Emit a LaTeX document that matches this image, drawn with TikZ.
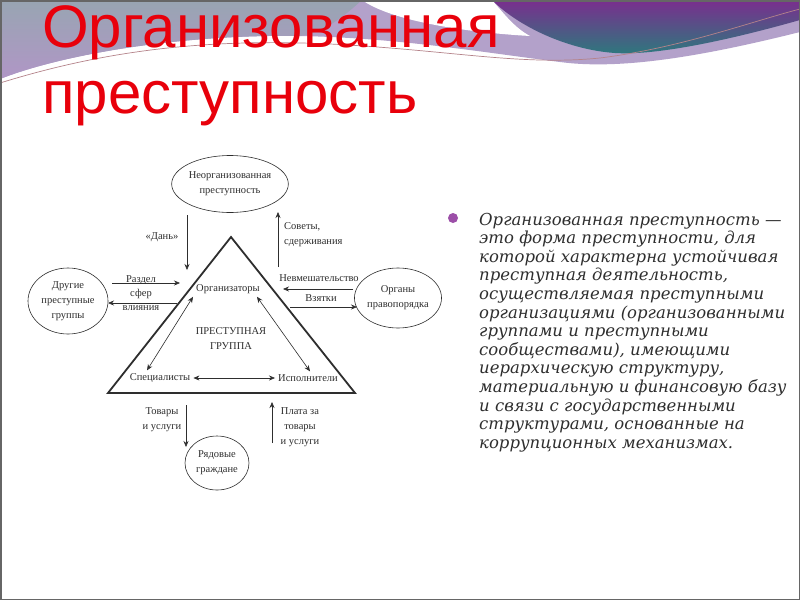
\documentclass[tikz,border=0pt]{standalone}
\usepackage{fontspec}
\setmainfont{Liberation Serif}
\newfontfamily\titlefont{Liberation Sans}
\newfontfamily\parafont{DejaVu Serif}
\usetikzlibrary{shapes.geometric,arrows.meta}

\definecolor{titlered}{HTML}{E8000B}
\definecolor{lavband}{HTML}{B3A1CA}
\definecolor{greyblue}{HTML}{98A5B2}
\definecolor{greypurple}{HTML}{B096C6}
\definecolor{deeppurple}{HTML}{7A2E8E}
\definecolor{deepteal}{HTML}{2B7B7D}
\definecolor{swooshline}{HTML}{B5838A}
\definecolor{bulletc}{HTML}{9C4FA8}
\definecolor{ink}{HTML}{2E2E2E}

\begin{document}
\begin{tikzpicture}[x=1pt,y=-1pt,
    every node/.style={font=\fontsize{10.5}{15}\selectfont,text=ink},
    oval/.style={draw=ink,ellipse,inner sep=0pt,align=center,line width=0.6pt},
    lbl/.style={align=center,inner sep=3pt},
    arr/.style={draw=ink,line width=0.6pt,-{Stealth[length=6pt,width=5pt]}},
    darr/.style={draw=ink,line width=0.6pt,{Stealth[length=6pt,width=5pt]}-{Stealth[length=6pt,width=5pt]}},
    para/.style={anchor=base west,inner sep=0pt,text=ink,font=\parafont\itshape\fontsize{16.5}{18}\selectfont}]
  \useasboundingbox (0,0) rectangle (800,600);
  \fill[white] (0,0) rectangle (800,600);

  % slide header swoosh
  \fill[lavband] (0,0) -- (800,0) -- (800,32) .. controls (700,57) and (620,70) .. (560,62)
    .. controls (480,52) and (400,38) .. (300,36) .. controls (180,34) and (60,55) .. (0,79) -- cycle;
  \shade[top color=greyblue,bottom color=greypurple] (0,0) -- (362,0)
    .. controls (340,20) and (320,34) .. (300,36) .. controls (180,34) and (60,55) .. (0,79) -- cycle;
  \fill[white] (362,0) -- (492,0) .. controls (505,15) and (515,28) .. (530,36)
    .. controls (460,32) and (390,20) .. (362,0) -- cycle;
  \shade[top color=deeppurple,bottom color=deepteal] (492,0) -- (800,0) -- (800,20)
    .. controls (740,37) and (660,56) .. (615,53) .. controls (570,50) and (520,28) .. (492,0) -- cycle;
  \draw[swooshline,line width=0.7pt] (0,83) .. controls (100,52) and (200,38) .. (330,44)
    .. controls (450,50) and (520,66) .. (600,58) .. controls (680,48) and (750,22) .. (800,9);

  % title
  \node[anchor=base west,inner sep=0pt,text=titlered,font=\titlefont\fontsize{60}{66}\selectfont] (ttl1) at (42,47) {Организованная};
  \node[anchor=base west,inner sep=0pt,text=titlered,font=\titlefont\fontsize{60}{66}\selectfont] (ttl2) at (42,113) {преступность};

  % outer parties
  \node[oval,minimum width=114,minimum height=57] (neorg) at (230,184) {Неорганизованная\\преступность};
  \node[oval,minimum width=80,minimum height=66] (drug) at (68,301) {Другие\\преступные\\группы};
  \node[oval,minimum width=86,minimum height=60] (organy) at (398,298) {Органы\\правопорядка};
  \node[oval,minimum width=64,minimum height=54] (grazhd) at (217,463) {Рядовые\\граждане};

  % the group itself
  \coordinate (apex) at (231,237);
  \coordinate (bl) at (108,393);
  \coordinate (br) at (355,393);
  \draw[ink,line width=1.8pt,line join=miter] (apex) -- (bl) -- (br) -- cycle;

  \node[lbl] (org) at (228,289) {Организаторы};
  \node[lbl] (grp) at (231,339) {ПРЕСТУПНАЯ\\ГРУППА};
  \node[lbl] (spec) at (160,378) {Специалисты};
  \node[lbl] (isp) at (308,378) {Исполнители};

  \draw[darr] (spec) -- (isp);
  \draw[darr] (org.south west) -- ([xshift=-13]spec.north);
  \draw[darr] ([xshift=-6]org.south east) -- ([xshift=2]isp.north);

  % flows
  \coordinate (danA) at (187,215);
  \coordinate (danB) at (187,270);
  \coordinate (sovA) at (278,267);
  \coordinate (sovB) at (278,212);
  \coordinate (razA) at (112,283);
  \coordinate (razB) at (180,283);
  \coordinate (vliA) at (177,303);
  \coordinate (vliB) at (108,303);
  \coordinate (nevA) at (353,289);
  \coordinate (nevB) at (283,289);
  \coordinate (vzA) at (290,307);
  \coordinate (vzB) at (357,307);
  \coordinate (tovA) at (186,405);
  \coordinate (tovB) at (186,447);
  \coordinate (plA) at (272,443);
  \coordinate (plB) at (272,402);

  \draw[arr] (danA) -- (danB);
  \draw[arr] (sovA) -- (sovB);
  \draw[arr] (razA) -- (razB);
  \draw[arr] (vliA) -- (vliB);
  \draw[arr] (nevA) -- (nevB);
  \draw[arr] (vzA) -- (vzB);
  \draw[arr] (tovA) -- (tovB);
  \draw[arr] (plA) -- (plB);

  \node[lbl] (dan) at (162,237) {«Дань»};
  \node[lbl,align=left,anchor=west,inner sep=0pt] (sov) at (284,235) {Советы,\\сдерживания};
  \node[lbl,inner sep=0pt,font=\fontsize{10.5}{14}\selectfont] (razd) at (141,293) {Раздел\\сфер\\влияния};
  \node[lbl,inner sep=0pt] (nev) at (319,278) {Невмешательство};
  \node[lbl,inner sep=0pt] (vz) at (321,298) {Взятки};
  \node[lbl,inner sep=0pt] (tov) at (162,420) {Товары\\и услуги};
  \node[lbl,inner sep=0pt] (plata) at (300,427) {Плата за\\товары\\и услуги};

  % definition text
  \fill[bulletc] (453,218) circle (5);
  \foreach \ln [count=\i] in {Организованная преступность —,
      {это форма преступности, для},
      которой характерна устойчивая,
      {преступная деятельность,},
      осуществляемая преступными,
      организациями (организованными,
      группами и преступными,
      {сообществами), имеющими},
      {иерархическую структуру,},
      материальную и финансовую базу,
      и связи с государственными,
      {структурами, основанные на},
      коррупционных механизмах.}
    \node[para] (p\i) at (479,{225+18.6*(\i-1)}) {\ln};

  \draw[gray!80!black,line width=1.5pt] (0.75,0.75) rectangle (799.25,599.25);
\end{tikzpicture}
\end{document}
